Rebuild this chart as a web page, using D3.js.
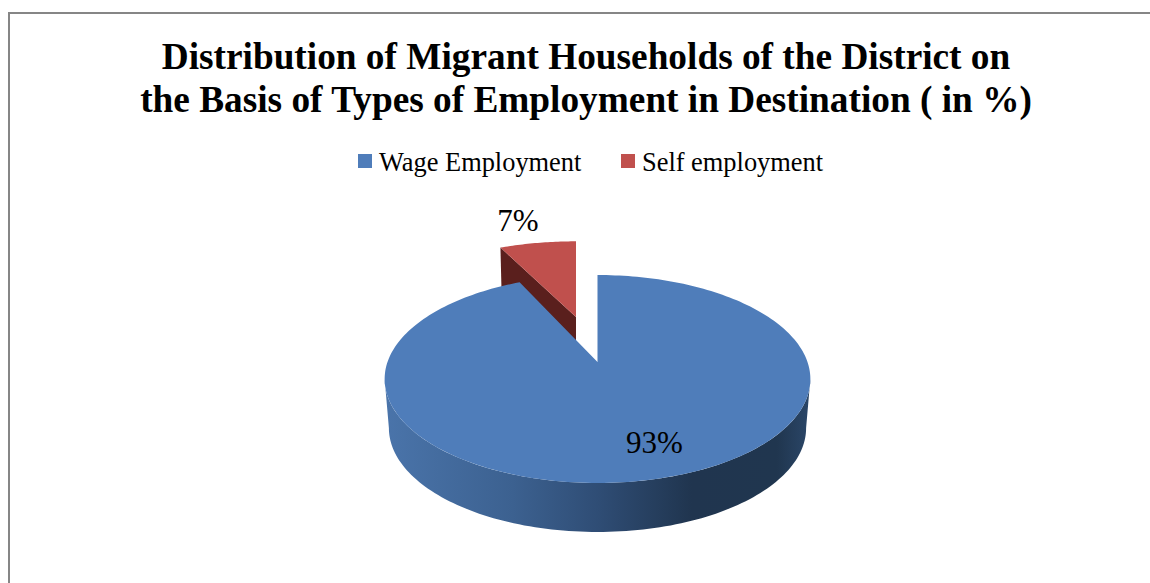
<!DOCTYPE html>
<html>
<head>
<meta charset="utf-8">
<script src="https://cdn.jsdelivr.net/npm/d3@7/dist/d3.min.js"></script>
<style>
html,body{margin:0;padding:0;background:#fff}
svg{display:block}
text{font-family:"Liberation Serif",serif;fill:#000}
</style>
</head>
<body>
<svg id="chart" width="1150" height="583"></svg>
<script>
const titleLines = ["Distribution of Migrant Households of the District on",
                    "the Basis of Types of Employment in Destination ( in %)"];
const categories = ["Wage Employment", "Self employment"];
const shares = [93, 7];
const topColors = ["#4f7dba", "#c0504d"];

const svg = d3.select("#chart");
const W = 1150, H = 583;

// Frame: only the top and left edges fall inside the canvas
svg.append("path").attr("d", `M9,${H}V13H${W}`)
  .attr("fill", "none").attr("stroke", "#868686").attr("stroke-width", 2);

svg.selectAll("text.title").data(titleLines).join("text").attr("class", "title")
  .attr("x", 586).attr("y", (d, i) => 69 + i * 43)
  .attr("text-anchor", "middle").attr("font-weight", "bold").attr("font-size", 37.3)
  .text(d => d);

// Legend
const legendX = d3.scaleOrdinal().domain(categories).range([358, 621]);
const legend = svg.selectAll("g.legend").data(categories).join("g").attr("class", "legend")
  .attr("transform", d => `translate(${legendX(d)},154)`);
legend.append("rect").attr("width", 14).attr("height", 14)
  .attr("fill", (d, i) => topColors[i]);
legend.append("text").attr("x", 21).attr("y", 17).attr("font-size", 26.4).text(d => d);

// Perspective mapping of the pie's ground plane onto the page
const apex = {x: 597.5, y: 362};
const persp = -0.1635, spanY = 101.2, spanX = 210;
function project(theta, o = {}) {
  const {dx = 0, dy = 0, sx = 1, sy = 1} = o;
  const u = Math.sin(theta), v = -Math.cos(theta), w = 1 + persp * v;
  return [apex.x + dx + sx * spanX * u / w, apex.y + dy + sy * spanY * v / w];
}
const pieAngles = d3.pie().sort(null).value(d => d)(shares);
const rim = (a0, a1, o, n = 120) => d3.range(n + 1).map(i => project(a0 + (a1 - a0) * i / n, o));
const line = d3.line();

const defs = svg.append("defs");
const wallStops = [[0, "#4a74aa"], [0.3, "#3c6190"], [0.5, "#2f4d75"], [0.72, "#20354f"], [0.92, "#20364f"], [1, "#2b4769"]];
const grad = defs.append("linearGradient").attr("id", "wall")
  .attr("gradientUnits", "userSpaceOnUse").attr("x1", 385).attr("x2", 811).attr("y1", 0).attr("y2", 0);
grad.selectAll("stop").data(wallStops).join("stop")
  .attr("offset", d => d[0]).attr("stop-color", d => d[1]);

// Exploded small slice: the offset and foreshortening come from its position further back
const red = pieAngles[1];
const redPose = {dx: -21.5, dy: -45, sx: 0.97, sy: 0.87};
const redArc = rim(red.startAngle, red.endAngle, redPose, 30);
const redApex = [apex.x + redPose.dx, apex.y + redPose.dy];
const redDepth = 40;
const wallPts = [redArc[0], redApex, [redApex[0], redApex[1] + redDepth], [redArc[0][0] + 1, redArc[0][1] + redDepth]];
svg.append("path").attr("d", line(wallPts) + "Z").attr("fill", "#5a1f1d");
svg.append("path").attr("d", line([redApex, ...redArc]) + "Z").attr("fill", topColors[1]);

// Large slice: outer wall between the rim's two side extremes, then the top face over it
const basePose = {dy: 49, sx: 0.98};
const sideTurn = Math.asin(-persp);
const leftSide = Math.PI * 1.5 - sideTurn, rightSide = Math.PI / 2 + sideTurn;
const blue = pieAngles[0];
const lowerTop = rim(leftSide, rightSide, {}, 120);
const lowerBase = rim(rightSide, leftSide, basePose, 120);
svg.append("path").attr("d", line([...lowerTop, ...lowerBase]) + "Z").attr("fill", "url(#wall)");
svg.append("path").attr("d", line([[apex.x, apex.y], ...rim(blue.startAngle, blue.endAngle, {}, 240)]) + "Z")
  .attr("fill", topColors[0]);

// Value labels
const labelPos = [[654.5, 453], [518, 231]];
svg.selectAll("text.val").data(shares).join("text").attr("class", "val")
  .attr("x", (d, i) => labelPos[i][0]).attr("y", (d, i) => labelPos[i][1])
  .attr("text-anchor", "middle").attr("font-size", 31)
  .text(d => d + "%");
</script>
</body>
</html>
